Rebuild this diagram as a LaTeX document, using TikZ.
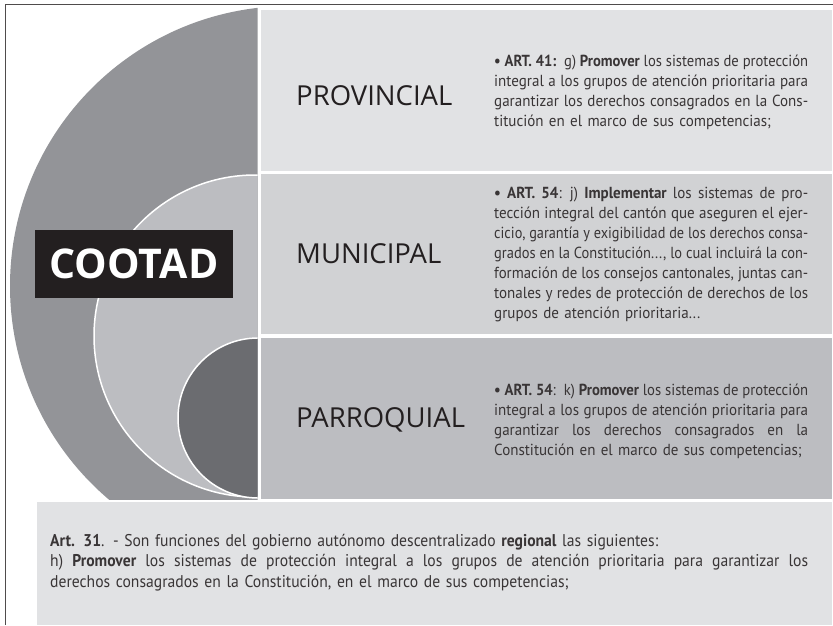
\documentclass[tikz,border=0pt]{standalone}
\usepackage{graphicx}
\usepackage{fontspec}
\setmainfont{Open Sans}
\newfontfamily\bodyfont[FakeStretch=0.94]{PT Sans}
\newfontfamily\footfont[FakeStretch=0.92]{PT Sans}
\usetikzlibrary{positioning}
\definecolor{cdark}{HTML}{939498}
\definecolor{cmid}{HTML}{BCBDC1}
\definecolor{cdeep}{HTML}{6B6C70}
\definecolor{cpale}{HTML}{E1E2E4}
\definecolor{csoft}{HTML}{D1D2D4}
\definecolor{cink}{HTML}{231F20}
% justified line: spaces stretch, too long lines are narrowed
\newsavebox\jlbox
\newcommand{\jl}[2][314pt]{\leavevmode
    \sbox\jlbox{\spaceskip=.25em\relax #2}%
    \ifdim\wd\jlbox>#1\relax
        \pgfmathsetmacro\jlr{#1/\wd\jlbox}%
        \scalebox{\jlr}[1]{\usebox\jlbox}%
    \else
        \hbox to #1{\spaceskip=.25em plus 1fil\relax #2}%
    \fi}

\begin{document}
\begin{tikzpicture}[x=1pt, y=-1pt,
        lvl/.style={font=\fontsize{27.5}{30}\selectfont, text=cink,
                    inner sep=0pt, anchor=base west},
        body/.style={font=\bodyfont\fontsize{16}{20}\selectfont, text=cink!90,
                     inner sep=0pt, anchor=base west, text width=320pt,
                     align=left},
        ring/.style={draw=white, line width=1.5pt}
    ]
        \useasboundingbox (0,0) rectangle (833,625);
        \fill[white] (0,0) rectangle (833,625);
        \draw[cink!80, line width=1pt] (5.5,625) -- (5.5,4.5) -- (833,4.5);
        % panels
        \fill[cpale] (261,10) rectangle (832,171);
        \fill[csoft] (261,174) rectangle (832,334);
        \fill[cmid] (261,338) rectangle (832,499);
        \fill[cpale] (37,502) rectangle (832,625);
        % rings
        \begin{scope}
            \clip (0,0) rectangle (257.5,499);
            \fill[cdark] (290,286) circle (280pt);
            \filldraw[cmid, ring] (255,336) circle (161pt);
            \filldraw[cdeep, ring] (258,418) circle (80pt);
        \end{scope}
        \node[fill=cink, text=white, font=\bfseries\fontsize{41}{41}\selectfont,
              minimum width=198pt, minimum height=68pt, inner sep=0pt]
              (cootad) at (134,264) {COOTAD};
        \node[lvl] (provlbl) at (296,105) {PROVINCIAL};
        \node[lvl] (munilbl) at (296,263) {MUNICIPAL};
        \node[lvl] (parrlbl) at (296,427) {PARROQUIAL};
        \node[body] (provtxt) at (494,66) {%
            \jl{\textbf{\textbullet\ ART. 41:} g) \textbf{Promover} los sistemas de protección}\\
            \jl{integral a los grupos de atención prioritaria para}\\
            \jl{garantizar los derechos consagrados en la Cons-}\\
            titución en el marco de sus competencias;};
        \node[body] (munitxt) at (494,198) {%
            \jl{\textbf{\textbullet\ ART. 54}: j) \textbf{Implementar} los sistemas de pro-}\\
            \jl{tección integral del cantón que aseguren el ejer-}\\
            \jl{cicio, garantía y exigibilidad de los derechos consa-}\\
            \jl{grados en la Constitución..., lo cual incluirá la con-}\\
            \jl{formación de los consejos cantonales, juntas can-}\\
            \jl{tonales y redes de protección de derechos de los}\\
            grupos de atención prioritaria...};
        \node[body] (parrtxt) at (494,395) {%
            \jl{\textbf{\textbullet\ ART. 54}: k) \textbf{Promover} los sistemas de protección}\\
            \jl{integral a los grupos de atención prioritaria para}\\
            \jl{garantizar los derechos consagrados en la}\\
            Constitución en el marco de sus competencias;};
        \node[body, text width=760pt, font=\footfont\fontsize{17}{20.5}\selectfont]
              (regitxt) at (50,546) {%
            \textbf{Art. 31}. - Son funciones del gobierno autónomo descentralizado \textbf{regional} las siguientes:\\
            \jl[758pt]{h) \textbf{Promover} los sistemas de protección integral a los grupos de atención prioritaria para garantizar los}\\
            derechos consagrados en la Constitución, en el marco de sus competencias;};
    \end{tikzpicture}
\end{document}
